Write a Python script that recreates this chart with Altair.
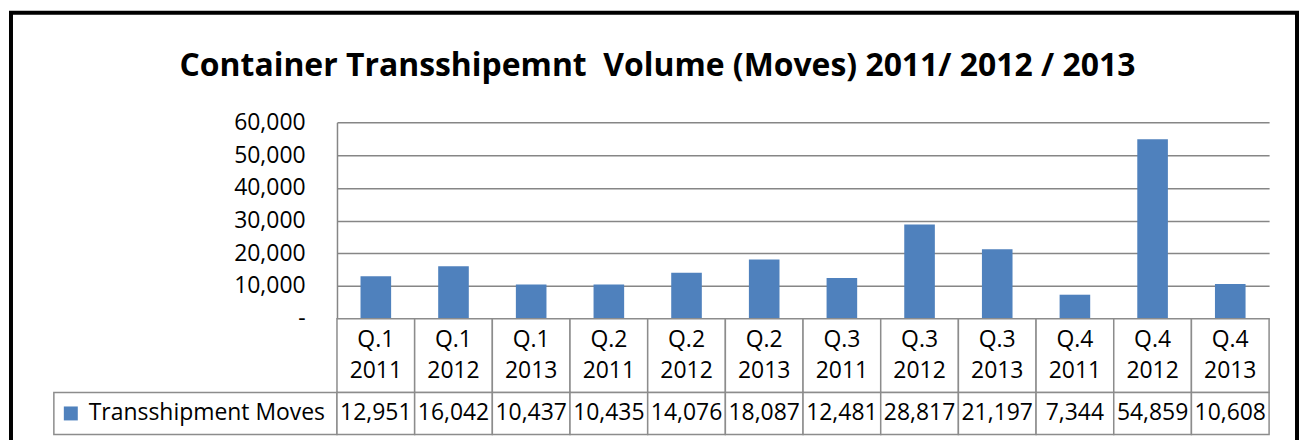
import altair as alt
import pandas as pd

# ---- data ----
quarters = ["Q.1", "Q.1", "Q.1", "Q.2", "Q.2", "Q.2", "Q.3", "Q.3", "Q.3", "Q.4", "Q.4", "Q.4"]
years = ["2011", "2012", "2013", "2011", "2012", "2013", "2011", "2012", "2013", "2011", "2012", "2013"]
moves = [12951, 16042, 10437, 10435, 14076, 18087, 12481, 28817, 21197, 7344, 54859, 10608]
series_name = "Transshipment Moves"
y_ticks = [0, 10000, 20000, 30000, 40000, 50000, 60000]
title_text = "Container Transshipemnt\u00a0 Volume (Moves) 2011/ 2012 / 2013"

cats = [f"{q} {y}" for q, y in zip(quarters, years)]
df = pd.DataFrame({"cat": cats, "moves": moves, "series": [series_name] * len(cats)})

# ---- style ----
FONT = "Open Sans"
BLUE = "#4F81BD"
GRID = "#868686"
LINE = "#8C8C8C"
FS = 23
PLOT_W, PLOT_H = 935, 197
LEG_W, CAT_H, VAL_H = 284, 74, 42
LH = 31

# ---- frame (decoration) + blank cells ----
one = pd.DataFrame({"f": [0]})
frame = alt.Chart(one).mark_rect(filled=False, stroke="black", strokeWidth=4).encode(
    x=alt.value(-43), x2=alt.value(1247), y=alt.value(-110), y2=alt.value(340)
)
blank_pt = alt.Chart(one).mark_point(opacity=0)
blank0 = alt.layer(frame, blank_pt).properties(width=LEG_W, height=PLOT_H)
blank1 = blank_pt.properties(width=LEG_W, height=CAT_H)

# ---- bars ----
bars = alt.Chart(df).mark_bar(color=BLUE).encode(
    x=alt.X("cat:N", sort=cats,
            scale=alt.Scale(domain=cats, paddingInner=0.606, paddingOuter=0.303),
            axis=None),
    y=alt.Y("moves:Q",
            scale=alt.Scale(domain=[0, 60000], nice=False),
            axis=alt.Axis(values=y_ticks, title=None, ticks=False,
                          labelExpr="datum.value == 0 ? '-\u2007' : format(datum.value, ',')",
                          domain=True, domainColor=GRID, domainWidth=1.5,
                          grid=True, gridColor=GRID, gridWidth=1.5,
                          labelFont=FONT, labelFontSize=FS, labelColor="black",
                          labelPadding=32)),
).properties(
    width=PLOT_W, height=PLOT_H,
    title=alt.TitleParams(title_text, font=FONT, fontSize=32, fontWeight="bold",
                          color="black", anchor="middle", dx=-146, offset=28),
)

# ---- data table ----
tx = alt.X("cat:N", sort=cats, scale=alt.Scale(domain=cats, paddingInner=0, paddingOuter=0), axis=None)

cat_cells = alt.Chart(df).mark_rect(fill="white", stroke=LINE, strokeWidth=1.5).encode(x=tx)
cat_text = alt.Chart(df).mark_text(lineBreak=" ", lineHeight=LH, dy=-LH / 2, font=FONT, fontSize=FS,
                                   color="black").encode(x=tx, text="cat:N")
catrow = alt.layer(cat_cells, cat_text).properties(width=PLOT_W, height=CAT_H)

val_cells = alt.Chart(df).mark_rect(fill="white", stroke=LINE, strokeWidth=1.5).encode(x=tx)
val_text = alt.Chart(df).mark_text(font=FONT, fontSize=FS, color="black").encode(
    x=tx, text=alt.Text("moves:Q", format=","))
valrow = alt.layer(val_cells, val_text).properties(width=PLOT_W, height=VAL_H)

leg_df = pd.DataFrame({"series": [series_name]})
leg_sym = alt.Chart(leg_df).mark_square(size=196, opacity=1, color=BLUE).encode(x=alt.value(17))
leg_txt = alt.Chart(leg_df).mark_text(align="left", font=FONT, fontSize=FS, color="black").encode(
    x=alt.value(35), text="series:N")
legcell = alt.layer(leg_sym, leg_txt).properties(
    width=LEG_W, height=VAL_H,
    view=alt.ViewBackground(stroke=LINE, strokeWidth=1.5),
)

chart = alt.concat(
    blank0, bars, blank1, catrow, legcell, valrow,
    columns=2, spacing=0, bounds="flush",
).properties(
    padding={"left": 0, "top": 1, "right": 0, "bottom": 0},
    background="white",
).configure_view(stroke="transparent")

chart.save("out.html", embed_options={"renderer": "svg", "actions": False})
